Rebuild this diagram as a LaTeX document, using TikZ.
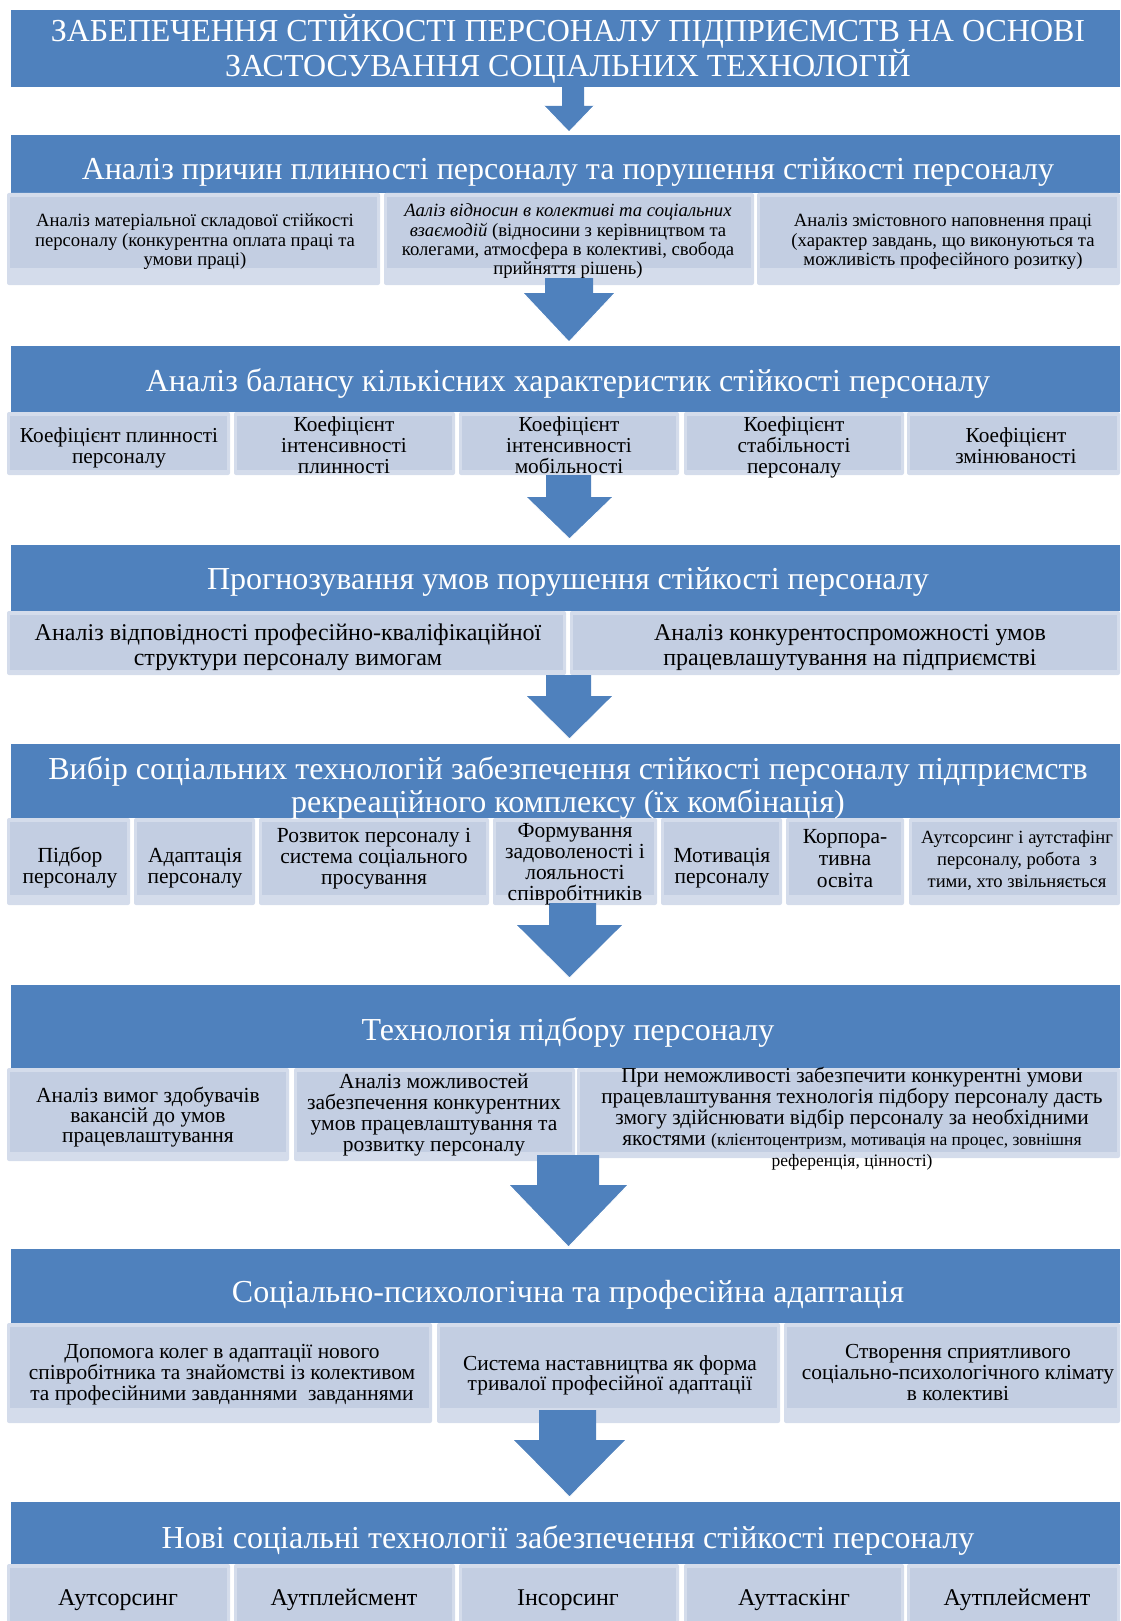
\documentclass[tikz,border=0pt]{standalone}
\usepackage{fontspec}
\setmainfont{Liberation Serif}
\definecolor{hdrblue}{HTML}{4F81BD}
\definecolor{subin}{HTML}{C3CEE2}
\definecolor{subout}{HTML}{D4DCEB}
\newcommand\tcell[7][]{\node[cell,#1] (#2) at (#3,#4) {\parbox[t]{1100pt}{\centering\fontsize{#5pt}{#6pt}\selectfont #7}};}
\newcommand\subbx[5]{\fill[subout, rounded corners=2pt] (#1,#2) rectangle (#3,#4); \fill[subin] (#1+3,#2+4) rectangle (#3-3,#5);}
\newcommand\blockarrow[8]{% name, shaft x1, shaft x2, shaft top, head top, head x1, head x2, tip y
  \coordinate (#1) at ({(#6+#7)/2},#8);
  \fill[hdrblue] (#2,#4) -- (#3,#4) -- (#3,#5) -- (#7,#5) -- (#1) -- (#6,#5) -- (#2,#5) -- cycle;
  \draw[white, line width=1pt, line join=miter] (#7,#5) -- (#1) -- (#6,#5);}
\tikzset{
  cell/.style={anchor=base, inner sep=0pt, text=black},
  wt/.style={text=white},
}
\begin{document}
\begin{tikzpicture}[x=1pt,y=-1pt]
\useasboundingbox (0,0) rectangle (1120,1621);
\clip (0,0) rectangle (1120,1621);
% headers
\fill[hdrblue] (11,10) rectangle (1120,87);
\fill[hdrblue] (11,135) rectangle (1120,193);
\fill[hdrblue] (11,346) rectangle (1120,412);
\fill[hdrblue] (11,545) rectangle (1120,611);
\fill[hdrblue] (11,744) rectangle (1120,818);
\fill[hdrblue] (11,985) rectangle (1120,1068);
\fill[hdrblue] (11,1249) rectangle (1120,1323);
\fill[hdrblue] (11,1502) rectangle (1120,1564);
% sub-boxes
\foreach \a/\b in {7/380,384/754,757/1120} {\subbx{\a}{193}{\b}{285}{268}}
\foreach \a/\b in {7/230,234/455,459/679,684/904,907/1120} {\subbx{\a}{412}{\b}{475}{470}}
\foreach \a/\b in {7/566,570/1120} {\subbx{\a}{611}{\b}{675}{670}}
\foreach \a/\b in {7/130,134/255,259/489,493/657,661/782,786/904,909/1120} {\subbx{\a}{818}{\b}{905}{895}}
\foreach \a/\b in {7/289,294/575} {\subbx{\a}{1068}{\b}{1161}{1152}}
\subbx{577}{1068}{1120}{1158}{1152}
\foreach \a/\b in {7/432,437/780,784/1120} {\subbx{\a}{1323}{\b}{1423}{1408}}
\foreach \a/\b in {7/230,234/455,459/679,684/904,907/1120} {\subbx{\a}{1564}{\b}{1625}{1625}}
% arrows
\blockarrow{a1}{562}{584}{87}{106}{544}{594}{132}
\blockarrow{a2}{545}{593}{278}{293}{523}{615}{342}
\blockarrow{a3}{546}{591}{475}{497}{526}{613}{539}
\blockarrow{a4}{546}{591}{675}{696}{526}{613}{739}
\blockarrow{a5}{549}{596}{903}{925}{516}{623}{978}
\blockarrow{a6}{537}{599}{1155}{1185}{509}{628}{1247}
\blockarrow{a7}{539}{596}{1410}{1440}{513}{626}{1497}
% header texts
\tcell[wt]{t1}{568}{42}{32}{32}{ЗАБЕПЕЧЕННЯ СТІЙКОСТІ ПЕРСОНАЛУ ПІДПРИЄМСТВ НА ОСНОВІ\\ЗАСТОСУВАННЯ СОЦІАЛЬНИХ ТЕХНОЛОГІЙ}
\tcell[wt]{t2}{568}{180}{32}{32}{Аналіз причин плинності персоналу та порушення стійкості персоналу}
\tcell[wt]{t3}{568}{391}{32}{32}{Аналіз балансу кількісних характеристик стійкості персоналу}
\tcell[wt]{t4}{568}{589}{32}{32}{Прогнозування умов порушення стійкості персоналу}
\tcell[wt]{t5}{568}{779}{32}{33}{Вибір соціальних технологій забезпечення стійкості персоналу підприємств\\рекреаційного комплексу (їх комбінація)}
\tcell[wt]{t6}{568}{1040}{32}{32}{Технологія підбору персоналу}
\tcell[wt]{t7}{568}{1302}{32}{32}{Соціально-психологічна та професійна адаптація}
\tcell[wt]{t8}{568}{1548}{32}{32}{Нові соціальні технології забезпечення стійкості персоналу}
% row 2
\tcell{r2a}{195}{227}{18.7}{19.5}{Аналіз матеріальної складової стійкості\\персоналу (конкурентна оплата праці та\\умови праці)}
\tcell{r2b}{568}{217}{18.7}{19.2}{\textit{Ааліз відносин в колективі та соціальних}\\\textit{взаємодій} (відносини з керівництвом та\\колегами, атмосфера в колективі, свобода\\прийняття рішень)}
\tcell{r2c}{943}{227}{18.7}{19.5}{Аналіз змістовного наповнення праці\\(характер завдань, що виконуються та\\можливість професійного розитку)}
% row 3
\tcell{r3a}{119}{442}{21.3}{21}{Коефіцієнт плинності\\персоналу}
\tcell{r3b}{344}{431}{21.3}{21}{Коефіцієнт\\інтенсивності\\плинності}
\tcell{r3c}{569}{431}{21.3}{21}{Коефіцієнт\\інтенсивності\\мобільності}
\tcell{r3d}{794}{431}{21.3}{21}{Коефіцієнт\\стабільності\\персоналу}
\tcell{r3e}{1016}{442}{21.3}{21}{Коефіцієнт\\змінюваності}
% row 4
\tcell{r4a}{288}{640}{24}{25}{Аналіз відповідності професійно-кваліфікаційної\\структури персоналу вимогам}
\tcell{r4b}{850}{640}{24}{25}{Аналіз конкурентоспроможності умов\\працевлашутування на підприємстві}
% row 5
\tcell{r5a}{70}{862}{21.5}{21}{Підбор\\персоналу}
\tcell{r5b}{195}{862}{21.5}{21}{Адаптація\\персоналу}
\tcell{r5c}{374}{842}{21.5}{21}{Розвиток персоналу і\\система соціального\\просування}
\tcell{r5d}{575}{837}{21.5}{21}{Формування\\задоволеності і\\лояльності\\співробітників}
\tcell{r5e}{722}{862}{21.5}{21}{Мотивація\\персоналу}
\tcell{r5f}{845}{843}{21.5}{22}{Корпора-\\тивна\\освіта}
\tcell{r5g}{1017}{843}{18.6}{22}{Аутсорсинг і аутстафінг\\персоналу, робота~~з\\тими, хто звільняється}
% row 6
\tcell{r6a}{148}{1102}{21.5}{20}{Аналіз вимог здобувачів\\вакансій до умов\\працевлаштування}
\tcell{r6b}{434}{1088}{21.5}{21}{Аналіз можливостей\\забезпечення конкурентних\\умов працевлаштування та\\розвитку персоналу}
\tcell{r6c}{852}{1082}{21.3}{21}{При неможливості забезпечити конкурентні умови\\працевлаштування технологія підбору персоналу дасть\\змогу здійснювати відбір персоналу за необхідними\\якостями {\fontsize{17.5pt}{21pt}\selectfont (клієнтоцентризм, мотивація на процес, зовнішня}\\{\fontsize{17.5pt}{21pt}\selectfont референція, цінності)}}
% row 7
\tcell{r7a}{222}{1358}{21.4}{21}{Допомога колег в адаптації нового\\співробітника та знайомстві із колективом\\та професійними завданнями~~завданнями}
\tcell{r7b}{610}{1370}{21.4}{20}{Система наставництва як форма\\тривалої професійної адаптації}
\tcell{r7c}{958}{1358}{21.4}{21}{Створення сприятливого\\соціально-психологічного клімату\\в колективі}
% row 8
\tcell{r8a}{118}{1605}{24}{24}{Аутсорсинг}
\tcell{r8b}{344}{1605}{24}{24}{Аутплейсмент}
\tcell{r8c}{568}{1605}{24}{24}{Інсорсинг}
\tcell{r8d}{794}{1605}{24}{24}{Ауттаскінг}
\tcell{r8e}{1017}{1605}{24}{24}{Аутплейсмент}
\end{tikzpicture}
\end{document}
